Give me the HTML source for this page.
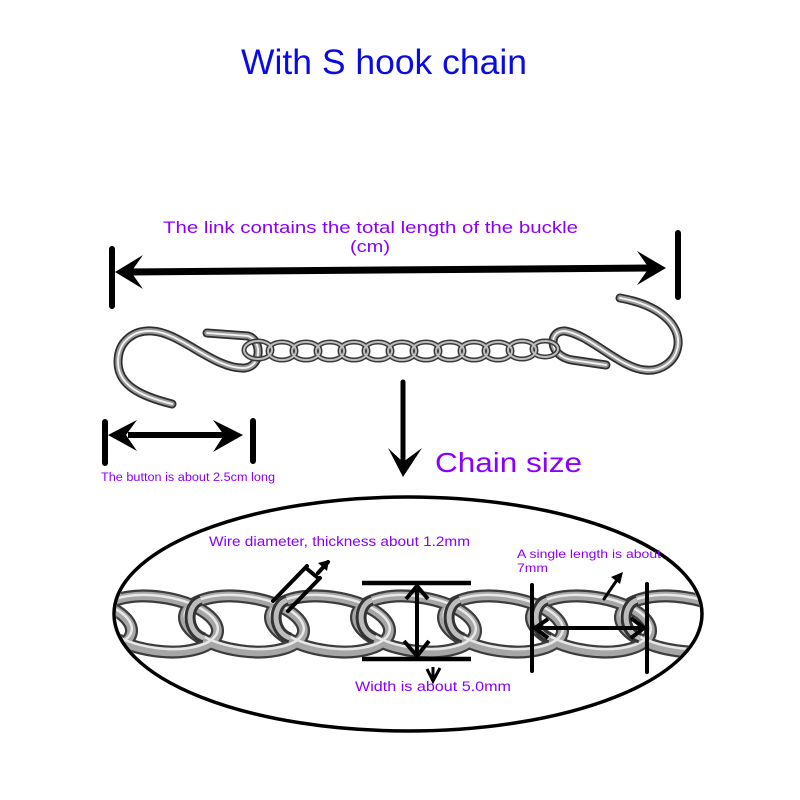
<!DOCTYPE html>
<html><head><meta charset="utf-8"><style>html,body{margin:0;padding:0;background:#fff}svg{display:block}</style></head>
<body>
<svg width="800" height="800" viewBox="0 0 800 800" xmlns="http://www.w3.org/2000/svg">
<defs>
  <clipPath id="ec"><ellipse cx="408" cy="614" rx="292" ry="115"/></clipPath>
</defs>
<rect width="800" height="800" fill="#fff"/>

<!-- Title -->
<text x="241" y="74" font-family="'Liberation Sans', sans-serif" font-size="35" fill="#0a0ae6" textLength="286" lengthAdjust="spacingAndGlyphs">With S hook chain</text>

<!-- Top label -->
<text x="163" y="233" font-family="'Liberation Sans', sans-serif" font-size="17" fill="#8a00ff" textLength="415" lengthAdjust="spacingAndGlyphs">The link contains the total length of the buckle</text>
<text x="350" y="252" font-family="'Liberation Sans', sans-serif" font-size="17" fill="#8a00ff" textLength="40" lengthAdjust="spacingAndGlyphs">(cm)</text>

<!-- Big arrow -->
<line x1="112" y1="249" x2="112" y2="306" stroke="#000" stroke-width="6" stroke-linecap="round"/>
<line x1="678" y1="233" x2="678" y2="297" stroke="#000" stroke-width="6" stroke-linecap="round"/>
<line x1="128" y1="272" x2="650" y2="268" stroke="#000" stroke-width="7"/>
<polygon points="115,272 143,255 131,272 143,289" fill="#000"/>
<polygon points="666,268 637,251 649,268 637,285" fill="#000"/>

<!-- S hooks -->
<g fill="none" stroke-linecap="round" stroke-linejoin="round">
  <path d="M172,404 C140,396 118,385 118,362 C118,340 135,330 152,331 C180,332 215,370 245,368 C262,366 262,340 248,336 L207,333" stroke="#2e2e2e" stroke-width="9"/>
  <path d="M172,404 C140,396 118,385 118,362 C118,340 135,330 152,331 C180,332 215,370 245,368 C262,366 262,340 248,336 L207,333" stroke="#9a9a9a" stroke-width="5.5"/>
  <path d="M172,404 C140,396 118,385 118,362 C118,340 135,330 152,331 C180,332 215,370 245,368 C262,366 262,340 248,336 L207,333" stroke="#f4f4f4" stroke-width="1.8"/>
  <path d="M620,298 C660,305 680,325 678,345 C676,362 660,372 645,370 C620,368 590,335 565,331 C548,330 548,356 572,360 L606,365" stroke="#2e2e2e" stroke-width="9"/>
  <path d="M620,298 C660,305 680,325 678,345 C676,362 660,372 645,370 C620,368 590,335 565,331 C548,330 548,356 572,360 L606,365" stroke="#9a9a9a" stroke-width="5.5"/>
  <path d="M620,298 C660,305 680,325 678,345 C676,362 660,372 645,370 C620,368 590,335 565,331 C548,330 548,356 572,360 L606,365" stroke="#f4f4f4" stroke-width="1.8"/>
</g>

<!-- small chain -->
<g fill="none">
  <g stroke="#3a3a3a" stroke-width="5">
    <ellipse cx="258" cy="350" rx="14" ry="9"/><ellipse cx="282" cy="351" rx="14" ry="9"/>
    <ellipse cx="306" cy="351" rx="14" ry="9"/><ellipse cx="330" cy="351" rx="14" ry="9"/>
    <ellipse cx="354" cy="351" rx="14" ry="9"/><ellipse cx="378" cy="351" rx="14" ry="9"/>
    <ellipse cx="402" cy="351" rx="14" ry="9"/><ellipse cx="426" cy="351" rx="14" ry="9"/>
    <ellipse cx="450" cy="351" rx="14" ry="9"/><ellipse cx="474" cy="351" rx="14" ry="9"/>
    <ellipse cx="498" cy="351" rx="14" ry="9"/><ellipse cx="522" cy="350" rx="14" ry="9"/>
    <ellipse cx="545" cy="349" rx="13" ry="8"/>
  </g>
  <g stroke="#bdbdbd" stroke-width="2">
    <ellipse cx="258" cy="350" rx="14" ry="9"/><ellipse cx="282" cy="351" rx="14" ry="9"/>
    <ellipse cx="306" cy="351" rx="14" ry="9"/><ellipse cx="330" cy="351" rx="14" ry="9"/>
    <ellipse cx="354" cy="351" rx="14" ry="9"/><ellipse cx="378" cy="351" rx="14" ry="9"/>
    <ellipse cx="402" cy="351" rx="14" ry="9"/><ellipse cx="426" cy="351" rx="14" ry="9"/>
    <ellipse cx="450" cy="351" rx="14" ry="9"/><ellipse cx="474" cy="351" rx="14" ry="9"/>
    <ellipse cx="498" cy="351" rx="14" ry="9"/><ellipse cx="522" cy="350" rx="14" ry="9"/>
    <ellipse cx="545" cy="349" rx="13" ry="8"/>
  </g>
</g>

<!-- small arrow -->
<line x1="105" y1="422" x2="105" y2="463" stroke="#000" stroke-width="6" stroke-linecap="round"/>
<line x1="253" y1="421" x2="253" y2="461" stroke="#000" stroke-width="6" stroke-linecap="round"/>
<line x1="128" y1="435" x2="228" y2="435" stroke="#000" stroke-width="6"/>
<polygon points="108,435 137,420 126,435 137,451" fill="#000"/>
<polygon points="243,435 213,420 224,435 213,452" fill="#000"/>
<text x="101" y="481" font-family="'Liberation Sans', sans-serif" font-size="11.5" fill="#8a00ff" textLength="174" lengthAdjust="spacingAndGlyphs">The button is about 2.5cm long</text>

<!-- down arrow -->
<line x1="403" y1="382" x2="403" y2="464" stroke="#000" stroke-width="5" stroke-linecap="round"/>
<polygon points="403,477 388,448 403,462 422,448" fill="#000"/>
<text x="435" y="472" font-family="'Liberation Sans', sans-serif" font-size="28" fill="#8a00ff" textLength="147" lengthAdjust="spacingAndGlyphs">Chain size</text>

<!-- big chain inside ellipse -->
<g clip-path="url(#ec)" fill="none">
  <g stroke="#3c3c3c" stroke-width="13">
    <ellipse cx="72" cy="624" rx="60" ry="27" transform="rotate(8 72 624)"/>
    <ellipse cx="158" cy="624" rx="60" ry="27" transform="rotate(8 158 624)"/>
    <ellipse cx="244" cy="624" rx="60" ry="27" transform="rotate(8 244 624)"/>
    <ellipse cx="330" cy="624" rx="60" ry="27" transform="rotate(8 330 624)"/>
    <ellipse cx="416" cy="624" rx="60" ry="27" transform="rotate(8 416 624)"/>
    <ellipse cx="503" cy="624" rx="60" ry="27" transform="rotate(8 503 624)"/>
    <ellipse cx="591" cy="624" rx="60" ry="27" transform="rotate(8 591 624)"/>
    <ellipse cx="680" cy="624" rx="60" ry="27" transform="rotate(8 680 624)"/>
  </g>
  <g stroke="#a6a6a6" stroke-width="8.5">
    <ellipse cx="72" cy="624" rx="60" ry="27" transform="rotate(8 72 624)"/>
    <ellipse cx="158" cy="624" rx="60" ry="27" transform="rotate(8 158 624)"/>
    <ellipse cx="244" cy="624" rx="60" ry="27" transform="rotate(8 244 624)"/>
    <ellipse cx="330" cy="624" rx="60" ry="27" transform="rotate(8 330 624)"/>
    <ellipse cx="416" cy="624" rx="60" ry="27" transform="rotate(8 416 624)"/>
    <ellipse cx="503" cy="624" rx="60" ry="27" transform="rotate(8 503 624)"/>
    <ellipse cx="591" cy="624" rx="60" ry="27" transform="rotate(8 591 624)"/>
    <ellipse cx="680" cy="624" rx="60" ry="27" transform="rotate(8 680 624)"/>
  </g>
  <g stroke="#e8e8e8" stroke-width="2.5">
    <ellipse cx="72" cy="622" rx="60" ry="26" transform="rotate(8 72 624)"/>
    <ellipse cx="158" cy="622" rx="60" ry="26" transform="rotate(8 158 624)"/>
    <ellipse cx="244" cy="622" rx="60" ry="26" transform="rotate(8 244 624)"/>
    <ellipse cx="330" cy="622" rx="60" ry="26" transform="rotate(8 330 624)"/>
    <ellipse cx="416" cy="622" rx="60" ry="26" transform="rotate(8 416 624)"/>
    <ellipse cx="503" cy="622" rx="60" ry="26" transform="rotate(8 503 624)"/>
    <ellipse cx="591" cy="622" rx="60" ry="26" transform="rotate(8 591 624)"/>
    <ellipse cx="680" cy="622" rx="60" ry="26" transform="rotate(8 680 624)"/>
  </g>
  <!-- knuckles -->
  <g stroke="#333" stroke-width="11">
    <path d="M115,600 C100,605 100,632 118,638"/>
    <path d="M201,600 C186,605 186,632 204,638"/>
    <path d="M287,600 C272,605 272,632 290,638"/>
    <path d="M372,600 C357,605 357,632 375,638"/>
    <path d="M460,600 C445,605 445,632 463,638"/>
    <path d="M547,600 C532,605 532,632 550,638"/>
    <path d="M637,600 C622,605 622,632 640,638"/>
  </g>
  <g stroke="#bcbcbc" stroke-width="5">
    <path d="M115,600 C100,605 100,632 118,638"/>
    <path d="M201,600 C186,605 186,632 204,638"/>
    <path d="M287,600 C272,605 272,632 290,638"/>
    <path d="M372,600 C357,605 357,632 375,638"/>
    <path d="M460,600 C445,605 445,632 463,638"/>
    <path d="M547,600 C532,605 532,632 550,638"/>
    <path d="M637,600 C622,605 622,632 640,638"/>
  </g>
</g>

<!-- ellipse outline -->
<ellipse cx="408" cy="614" rx="294" ry="117" fill="none" stroke="#000" stroke-width="3.5"/>

<!-- wire diameter marker -->
<g stroke="#000" stroke-width="4" stroke-linecap="round" fill="none">
  <line x1="273" y1="601" x2="307" y2="566"/>
  <line x1="288" y1="611" x2="320" y2="578"/>
  <line x1="306" y1="568" x2="318" y2="578"/>
  <line x1="318" y1="573" x2="328" y2="562"/>
</g>
<polygon points="329,560 318,563 327,571" fill="#000"/>

<!-- width marker -->
<g stroke="#000" stroke-width="4.5" stroke-linecap="butt">
  <line x1="362" y1="583" x2="471" y2="583"/>
  <line x1="362" y1="659" x2="471" y2="659"/>
  <line x1="417" y1="587" x2="417" y2="656" stroke-width="4"/>
</g>
<polyline points="406,599 417,586 428,599" fill="none" stroke="#000" stroke-width="4"/>
<polyline points="404,641 417,656 429,641" fill="none" stroke="#000" stroke-width="4"/>
<polyline points="427,669 433,681 440,668" fill="none" stroke="#000" stroke-width="3"/>
<line x1="433" y1="667" x2="433" y2="680" stroke="#000" stroke-width="3"/>

<!-- single length marker -->
<g stroke="#000" stroke-width="4" stroke-linecap="round">
  <line x1="532" y1="585" x2="532" y2="671"/>
  <line x1="647" y1="584" x2="647" y2="672"/>
  <line x1="536" y1="628" x2="643" y2="628"/>
  <line x1="604" y1="599" x2="619" y2="577" stroke-width="3"/>
</g>
<polyline points="548,619 535,628 548,638" fill="none" stroke="#000" stroke-width="4"/>
<polyline points="631,618 644,628 631,638" fill="none" stroke="#000" stroke-width="4"/>
<polygon points="623,572 611,577 620,584" fill="#000"/>

<!-- ellipse labels -->
<text x="209" y="546" font-family="'Liberation Sans', sans-serif" font-size="13.5" fill="#8a00ff" textLength="261" lengthAdjust="spacingAndGlyphs">Wire diameter, thickness about 1.2mm</text>
<text x="517" y="558" font-family="'Liberation Sans', sans-serif" font-size="12" fill="#8a00ff" textLength="144" lengthAdjust="spacingAndGlyphs">A single length is about</text>
<text x="517" y="572" font-family="'Liberation Sans', sans-serif" font-size="12" fill="#8a00ff" textLength="31" lengthAdjust="spacingAndGlyphs">7mm</text>
<text x="355" y="691" font-family="'Liberation Sans', sans-serif" font-size="13.5" fill="#8a00ff" textLength="156" lengthAdjust="spacingAndGlyphs">Width is about 5.0mm</text>
</svg>
</body></html>
